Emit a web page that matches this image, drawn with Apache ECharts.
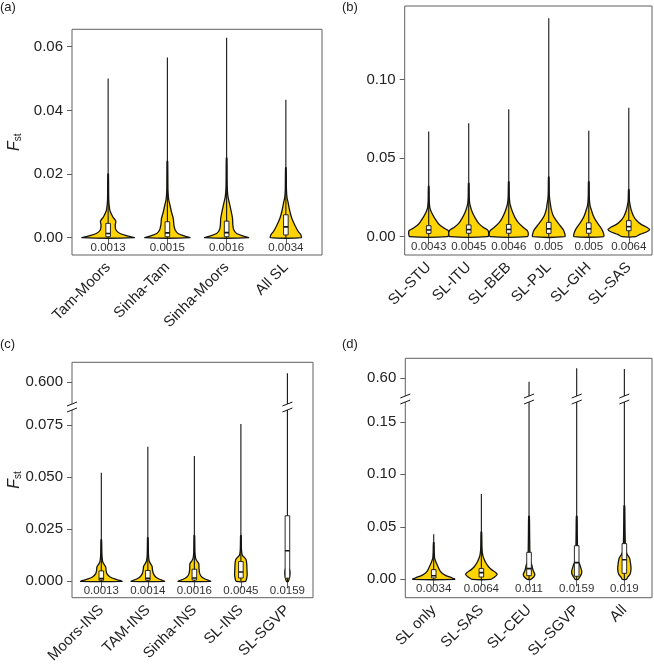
<!DOCTYPE html>
<html><head><meta charset="utf-8">
<script src="https://cdn.jsdelivr.net/npm/echarts@6/dist/echarts.min.js"></script>
<style>html,body{margin:0;padding:0;background:#fff}#chart{width:654px;height:666px}</style>
</head><body><div id="chart"></div>
<script>
// ---------------- DATA ----------------
// Panel (a)
const aCategories = ['Tam-Moors', 'Sinha-Tam', 'Sinha-Moors', 'All SL'];
const aMedians = [0.0013, 0.0015, 0.0016, 0.0034];
const aMedianLabels = ['0.0013', '0.0015', '0.0016', '0.0034'];
const aQ1 = [0.0003, 0.0003, 0.0003, 0.00085];
const aQ3 = [0.0045, 0.005, 0.0052, 0.0072];
const aMax = [0.050, 0.0566, 0.0628, 0.0433];
const aDensity = [
  [[0,0.44],[0.0006,0.32],[0.0013,0.2],[0.0025,0.13],[0.004,0.12],[0.0052,0.13],[0.0065,0.08],[0.0078,0.045],[0.009,0.025],[0.012,0.01],[0.02,0.005]],
  [[0,0.38],[0.0006,0.28],[0.0013,0.18],[0.0025,0.13],[0.004,0.11],[0.006,0.1],[0.008,0.07],[0.0105,0.04],[0.012,0.022],[0.015,0.01],[0.024,0.005]],
  [[0,0.37],[0.0006,0.27],[0.0013,0.17],[0.0025,0.12],[0.004,0.105],[0.006,0.1],[0.0085,0.075],[0.011,0.045],[0.013,0.022],[0.016,0.01],[0.025,0.005]],
  [[0,0.26],[0.001,0.25],[0.0019,0.21],[0.004,0.15],[0.0061,0.1],[0.0087,0.062],[0.0113,0.035],[0.0125,0.02],[0.015,0.01],[0.022,0.005]]
];
const aTicks = [0, 0.02, 0.04, 0.06];

// Panel (b)
const bCategories = ['SL-STU', 'SL-ITU', 'SL-BEB', 'SL-PJL', 'SL-GIH', 'SL-SAS'];
const bMedians = [0.0043, 0.0045, 0.0046, 0.005, 0.005, 0.0064];
const bMedianLabels = ['0.0043', '0.0045', '0.0046', '0.005', '0.005', '0.0064'];
const bQ1 = [0.0021, 0.0022, 0.0022, 0.0021, 0.0022, 0.0038];
const bQ3 = [0.007, 0.0075, 0.0078, 0.0091, 0.0088, 0.0102];
const bMax = [0.0668, 0.0721, 0.081, 0.1388, 0.0674, 0.082];
const bDensity = [
  [[0,0.47],[0.0015,0.5],[0.0038,0.49],[0.0055,0.38],[0.0081,0.25],[0.0113,0.16],[0.0144,0.09],[0.017,0.045],[0.019,0.025],[0.023,0.013],[0.032,0.007]],
  [[0,0.47],[0.0015,0.5],[0.004,0.48],[0.006,0.36],[0.0085,0.25],[0.012,0.16],[0.0155,0.09],[0.019,0.045],[0.021,0.025],[0.025,0.013],[0.034,0.007]],
  [[0,0.46],[0.0015,0.49],[0.004,0.46],[0.006,0.36],[0.009,0.24],[0.012,0.16],[0.016,0.09],[0.0195,0.045],[0.022,0.025],[0.026,0.013],[0.035,0.007]],
  [[0,0.4],[0.002,0.4],[0.0045,0.36],[0.0075,0.27],[0.0105,0.18],[0.0135,0.11],[0.017,0.065],[0.021,0.04],[0.024,0.022],[0.028,0.012],[0.038,0.007]],
  [[0,0.37],[0.002,0.37],[0.0045,0.33],[0.0075,0.25],[0.0105,0.17],[0.0135,0.11],[0.017,0.065],[0.0195,0.035],[0.022,0.02],[0.026,0.012],[0.035,0.007]],
  [[0,0.17],[0.0015,0.28],[0.003,0.44],[0.0045,0.52],[0.006,0.45],[0.008,0.3],[0.0105,0.19],[0.013,0.12],[0.017,0.06],[0.0205,0.03],[0.023,0.015],[0.03,0.007]]
];
const bTicks = [0, 0.05, 0.10];

// Panel (c)
const cCategories = ['Moors-INS', 'TAM-INS', 'Sinha-INS', 'SL-INS', 'SL-SGVP'];
const cMedians = [0.0013, 0.0014, 0.0016, 0.0045, 0.0147];
const cMedianLabels = ['0.0013', '0.0014', '0.0016', '0.0045', '0.0159'];
const cQ1 = [0.0005, 0.0005, 0.0006, 0.0016, 0.0015];
const cQ3 = [0.005, 0.0052, 0.0058, 0.0095, 0.0315];
const cMax = [0.0522, 0.0647, 0.0602, 0.0756, 0.6043];
const cDensity = [
  [[0,0.445],[0.0005,0.38],[0.001,0.3],[0.0021,0.19],[0.0037,0.12],[0.0055,0.1],[0.0069,0.095],[0.0085,0.05],[0.0095,0.028],[0.013,0.013],[0.02,0.006]],
  [[0,0.36],[0.0005,0.31],[0.001,0.25],[0.0021,0.17],[0.0037,0.12],[0.0055,0.1],[0.0072,0.09],[0.0088,0.05],[0.0098,0.028],[0.013,0.013],[0.021,0.006]],
  [[0,0.35],[0.0005,0.3],[0.001,0.24],[0.0021,0.16],[0.0037,0.115],[0.006,0.1],[0.0085,0.095],[0.01,0.05],[0.011,0.028],[0.014,0.013],[0.022,0.006]],
  [[0,0.1],[0.001,0.12],[0.003,0.135],[0.006,0.13],[0.0085,0.125],[0.0105,0.11],[0.0118,0.06],[0.0125,0.03],[0.015,0.013],[0.022,0.006]],
  [[0,0.02],[0.002,0.045],[0.004,0.055],[0.0058,0.045],[0.0068,0.025],[0.009,0.013],[0.03,0.008]]
];
const cTicksLow = [0, 0.025, 0.05, 0.075];
const cTicksHigh = [0.6];

// Panel (d)
const dCategories = ['SL only', 'SL-SAS', 'SL-CEU', 'SL-SGVP', 'All'];
const dMedians = [0.0034, 0.0064, 0.0102, 0.0159, 0.0187];
const dMedianLabels = ['0.0034', '0.0064', '0.011', '0.0159', '0.019'];
const dQ1 = [0.0013, 0.0022, 0.0035, 0.0029, 0.0057];
const dQ3 = [0.0092, 0.0102, 0.0257, 0.032, 0.034];
const dMax = [0.0429, 0.0812, 0.5968, 0.6095, 0.6089];
const dDensity = [
  [[0,0.44],[0.0015,0.38],[0.003,0.28],[0.005,0.2],[0.0075,0.14],[0.011,0.1],[0.015,0.06],[0.018,0.035],[0.02,0.02],[0.025,0.012],[0.035,0.006]],
  [[0,0.2],[0.002,0.27],[0.0045,0.33],[0.0065,0.3],[0.009,0.22],[0.012,0.15],[0.016,0.09],[0.02,0.05],[0.024,0.025],[0.03,0.013],[0.045,0.006]],
  [[0,0.04],[0.001,0.07],[0.003,0.11],[0.005,0.12],[0.008,0.09],[0.011,0.07],[0.0135,0.06],[0.0155,0.035],[0.02,0.022],[0.03,0.016],[0.045,0.012],[0.06,0.007]],
  [[0,0.03],[0.002,0.06],[0.005,0.1],[0.008,0.105],[0.011,0.085],[0.014,0.065],[0.017,0.035],[0.022,0.022],[0.032,0.016],[0.045,0.012],[0.06,0.007]],
  [[0,0.04],[0.002,0.07],[0.005,0.12],[0.01,0.14],[0.015,0.13],[0.02,0.11],[0.023,0.07],[0.026,0.035],[0.032,0.022],[0.042,0.016],[0.055,0.012],[0.07,0.007]]
];
const dTicksLow = [0, 0.05, 0.10, 0.15];
const dTicksHigh = [0.6];

// ---------------- LAYOUT / STYLE ----------------
const YELLOW = '#FFD400';
const INK = '#141414';
const FRAME = '#606060';
const TXT = '#222';
const FONT = '"Liberation Sans", Arial, sans-serif';
const BOX_HALF = 2.3;

const panels = [
  { tag: '(a)', tagPos: [0, 1], cats: aCategories, dens: aDensity, q1: aQ1, q3: aQ3, med: aMedians, medLab: aMedianLabels, max: aMax, dec: 2, yName: true,
    frame: { left: 72, top: 29.3, width: 250, height: 225.7 }, xMin: 0.39, xMax: 4.61,
    low: { top: 29.3, height: 225.7, min: -0.00544, max: 0.06547, ticks: aTicks } },
  { tag: '(b)', tagPos: [342, 1], cats: bCategories, dens: bDensity, q1: bQ1, q3: bQ3, med: bMedians, medLab: bMedianLabels, max: bMax, dec: 2, yName: false,
    frame: { left: 404.7, top: 6, width: 247.3, height: 249 }, xMin: 0.4, xMax: 6.58,
    low: { top: 6, height: 249, min: -0.01163, max: 0.14666, ticks: bTicks } },
  { tag: '(c)', tagPos: [0, 338], cats: cCategories, dens: cDensity, q1: cQ1, q3: cQ3, med: cMedians, medLab: cMedianLabels, max: cMax, dec: 3, yName: true,
    frame: { left: 72, top: 362.3, width: 241, height: 235.4 }, xMin: 0.37, xMax: 5.55,
    high: { top: 362.3, height: 44.7, min: 0.5881, max: 0.6096, ticks: cTicksHigh },
    low: { top: 407, height: 190.7, min: -0.00788, max: 0.0838, ticks: cTicksLow } },
  { tag: '(d)', tagPos: [342, 338], cats: dCategories, dens: dDensity, q1: dQ1, q3: dQ3, med: dMedians, medLab: dMedianLabels, max: dMax, dec: 2, yName: false,
    frame: { left: 405.3, top: 358.3, width: 246.7, height: 239.4 }, xMin: 0.404, xMax: 5.58,
    high: { top: 358.3, height: 40.7, min: 0.5803, max: 0.619, ticks: dTicksHigh },
    low: { top: 399, height: 198.7, min: -0.0175, max: 0.1717, ticks: dTicksLow } }
];

const option = { animation: false, backgroundColor: '#fff', title: [], grid: [], xAxis: [], yAxis: [], series: [] };

function addGrid(left, width, top, height, show) {
  option.grid.push({ left, width, top, height, show, borderColor: FRAME, borderWidth: 1, backgroundColor: 'transparent',
    containLabel: false, outerBoundsMode: 'none' });
  return option.grid.length - 1;
}

const yNameCfg = {
  name: '{f|F}{s|st}', nameLocation: 'middle', nameRotate: 90, nameGap: 49,
  nameTextStyle: { rich: {
    f: { fontStyle: 'italic', fontSize: 16, color: TXT, fontFamily: FONT },
    s: { fontSize: 10, color: TXT, fontFamily: FONT, verticalAlign: 'bottom' }
  } }
};

function addXAxis(gi, P, showLabels) {
  const pos = P.cats.map((_, i) => i + 1);
  option.xAxis.push({ type: 'value', gridIndex: gi, min: P.xMin, max: P.xMax, show: showLabels,
    axisLine: { show: false }, splitLine: { show: false },
    axisTick: { show: true, customValues: pos, length: 7, lineStyle: { color: FRAME } },
    axisLabel: { show: true, customValues: pos, rotate: 45, margin: 10, fontSize: 15, color: TXT, fontFamily: FONT,
      formatter: v => P.cats[Math.round(v) - 1] || '' } });
  return option.xAxis.length - 1;
}
function addYAxis(gi, part, dec, extra) {
  option.yAxis.push(Object.assign({ type: 'value', gridIndex: gi, min: part.min, max: part.max,
    axisLine: { show: false }, splitLine: { show: false },
    axisTick: { show: true, customValues: part.ticks, length: 5, lineStyle: { color: FRAME } },
    axisLabel: { show: true, customValues: part.ticks, margin: 9, fontSize: 15, color: TXT, fontFamily: FONT,
      formatter: v => Number(v).toFixed(dec) } }, extra || {}));
  return option.yAxis.length - 1;
}

function violinSeries(P, xi, yi) {
  return { type: 'custom', xAxisIndex: xi, yAxisIndex: yi, clip: true, silent: true, z: 3,
    data: P.cats.map((_, i) => [i + 1, P.med[i]]), encode: { x: 0, y: 1 },
    renderItem: (params, api) => {
      const i = params.dataIndex, cx = i + 1;
      const prof = P.dens[i];
      const right = prof.map(([v, w]) => api.coord([cx + w, v]));
      const left = prof.slice().reverse().map(([v, w]) => api.coord([cx - w, v]));
      const base = api.coord([cx, 0]);
      const top = api.coord([cx, P.max[i]]);
      const a = api.coord([cx, P.q1[i]]), b = api.coord([cx, P.q3[i]]), m = api.coord([cx, P.med[i]]);
      return { type: 'group', children: [
        { type: 'polygon', shape: { points: right.concat(left), smooth: 0.25 }, style: { fill: YELLOW, stroke: INK, lineWidth: 1.3 } },
        { type: 'line', shape: { x1: base[0], y1: base[1], x2: top[0], y2: top[1] }, style: { stroke: INK, lineWidth: 1.1 } },
        { type: 'rect', shape: { x: b[0] - BOX_HALF, y: b[1], width: 2 * BOX_HALF, height: a[1] - b[1] }, style: { fill: '#fff', stroke: INK, lineWidth: 0.9 } },
        { type: 'line', shape: { x1: m[0] - BOX_HALF, y1: m[1], x2: m[0] + BOX_HALF, y2: m[1] }, style: { stroke: INK, lineWidth: 1.6 } }
      ] };
    } };
}
function labelSeries(P, xi, yi) {
  return { type: 'custom', xAxisIndex: xi, yAxisIndex: yi, clip: false, silent: true, z: 4,
    data: P.cats.map((_, i) => [i + 1, 0]), encode: { x: 0, y: 1 },
    renderItem: (params, api) => {
      const p = api.coord([params.dataIndex + 1, 0]);
      return { type: 'text', x: p[0], y: p[1] + 10,
        style: { text: P.medLab[params.dataIndex], fill: '#333', fontSize: 11.5, fontFamily: FONT, align: 'center', verticalAlign: 'middle' } };
    } };
}
function tailSeries(P, xi, yi, fromV) {
  const idx = P.cats.map((_, i) => i).filter(i => P.max[i] > fromV);
  return { type: 'custom', xAxisIndex: xi, yAxisIndex: yi, clip: true, silent: true, z: 3,
    data: idx.map(i => [i + 1, P.max[i]]), encode: { x: 0, y: 1 },
    renderItem: (params, api) => {
      const cx = api.value(0);
      const p0 = api.coord([cx, fromV]), p1 = api.coord([cx, api.value(1)]);
      return { type: 'line', shape: { x1: p0[0], y1: p0[1], x2: p1[0], y2: p1[1] }, style: { stroke: INK, lineWidth: 1.1 } };
    } };
}
function breakSeries(P, xi, yi, breakV) {
  const xs = [P.xMin].concat(P.cats.map((_, i) => i).filter(i => P.max[i] > breakV).map(i => i + 1));
  return { type: 'custom', xAxisIndex: xi, yAxisIndex: yi, clip: false, silent: true, z: 6,
    data: xs.map(x => [x, breakV]), encode: { x: 0, y: 1 },
    renderItem: (params, api) => {
      const p = api.coord([api.value(0), api.value(1)]);
      const x = p[0], y = p[1];
      return { type: 'group', children: [
        { type: 'polygon', shape: { points: [[x - 5, y - 1], [x + 5, y - 5], [x + 5, y + 1], [x - 5, y + 5]] }, style: { fill: '#fff' } },
        { type: 'line', shape: { x1: x - 5, y1: y - 1, x2: x + 5, y2: y - 5 }, style: { stroke: INK, lineWidth: 1 } },
        { type: 'line', shape: { x1: x - 5, y1: y + 5, x2: x + 5, y2: y + 1 }, style: { stroke: INK, lineWidth: 1 } }
      ] };
    } };
}

panels.forEach(P => {
  option.title.push({ text: P.tag, left: P.tagPos[0], top: P.tagPos[1], padding: 0,
    textStyle: { fontSize: 13, fontWeight: 'normal', color: TXT, fontFamily: FONT } });
  const F = P.frame;
  if (!P.high) {
    const g = addGrid(F.left, F.width, F.top, F.height, true);
    const xi = addXAxis(g, P, true);
    const yi = addYAxis(g, P.low, P.dec, P.yName ? yNameCfg : {});
    option.series.push(violinSeries(P, xi, yi), labelSeries(P, xi, yi));
  } else {
    const gf = addGrid(F.left, F.width, F.top, F.height, true);
    option.xAxis.push({ type: 'value', gridIndex: gf, show: false, min: 0, max: 1 });
    option.yAxis.push(Object.assign({ type: 'value', gridIndex: gf, min: 0, max: 1, show: P.yName,
      axisLine: { show: false }, axisTick: { show: false }, axisLabel: { show: false }, splitLine: { show: false } }, P.yName ? yNameCfg : {}));
    const gh = addGrid(F.left, F.width, P.high.top, P.high.height, false);
    const xh = addXAxis(gh, P, false);
    const yh = addYAxis(gh, P.high, P.dec);
    option.series.push(tailSeries(P, xh, yh, P.high.min));
    const gl = addGrid(F.left, F.width, P.low.top, P.low.height, false);
    const xl = addXAxis(gl, P, true);
    const yl = addYAxis(gl, P.low, P.dec);
    option.series.push(violinSeries(P, xl, yl), labelSeries(P, xl, yl), breakSeries(P, xl, yl, P.low.max));
  }
});

const chart = echarts.init(document.getElementById('chart'), null, { renderer: 'canvas' });
chart.setOption(option);
</script></body></html>
